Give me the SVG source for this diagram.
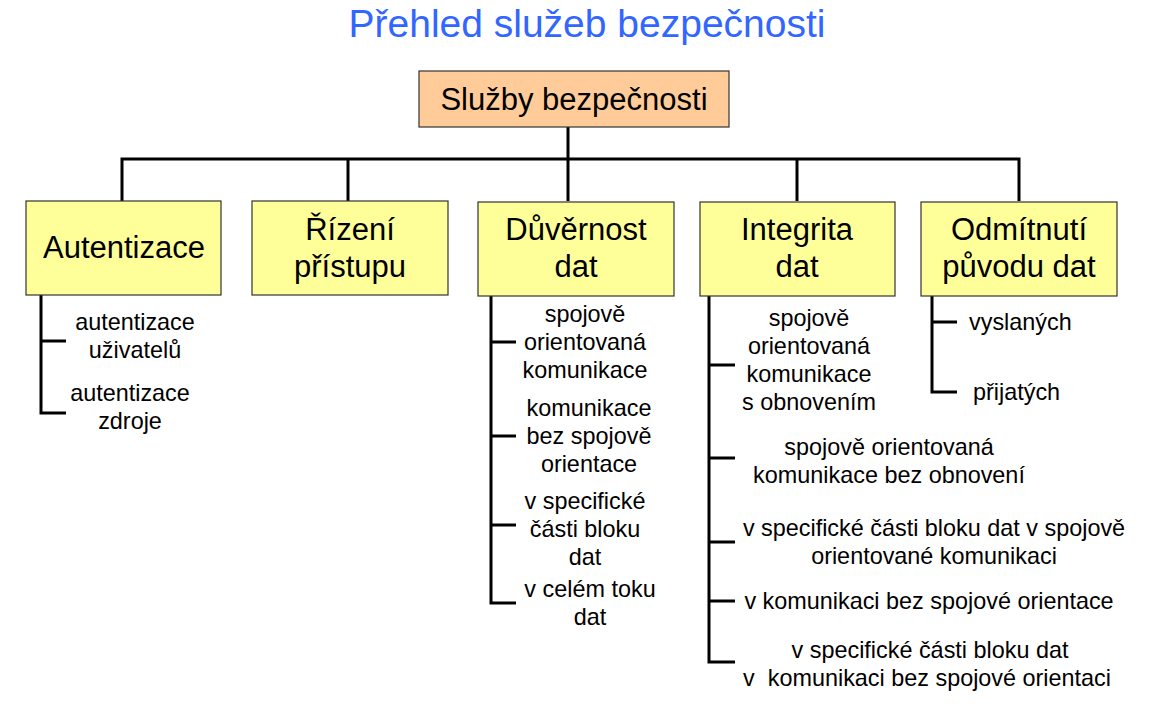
<svg xmlns="http://www.w3.org/2000/svg" width="1149" height="710" viewBox="0 0 1149 710">
<style>
text{font-family:"Liberation Sans",Arial,sans-serif;fill:#000}
.title{font-size:39px;fill:#3366FF}
.bt{font-size:31px;text-anchor:middle}
.ct{font-size:23.4px;text-anchor:middle}
.cl{font-size:23.4px}
.box{fill:#FFFF99;stroke:#333;stroke-width:1.2}
.root{fill:#FFCC99;stroke:#333;stroke-width:1.2}
.ln{fill:none;stroke:#000;stroke-width:3}
</style>
<rect width="1149" height="710" fill="#fff"/>
<text class="title" x="587" y="37" text-anchor="middle">Přehled služeb bezpečnosti</text>
<g id="connectors">
<path class="ln" d="M568 127V159M122 201V159H1019V201M348 159V201M568 159V201M797 159V201"/>
<path class="ln" d="M41 295V413H66M41 341H66"/>
<path class="ln" d="M491 296V603H516M491 342H516M491 436H516M491 525H516"/>
<path class="ln" d="M709 296V662H735M709 365H735M709 458H735M709 542H735M709 601H735"/>
<path class="ln" d="M932 296V392H957M932 322H957"/>
</g>
<g id="root"><rect class="root" x="419" y="71" width="310" height="56"/><text class="bt" x="574" y="110">Služby bezpečnosti</text></g>
<g id="autentizace"><rect class="box" x="26" y="201" width="195" height="94"/><text class="bt" x="124" y="258">Autentizace</text></g>
<g id="rizeni"><rect class="box" x="252" y="201" width="196" height="94"/><text class="bt" x="350" y="240">Řízení</text><text class="bt" x="350" y="277">přístupu</text></g>
<g id="duvernost"><rect class="box" x="478" y="202" width="196" height="94"/><text class="bt" x="576" y="240">Důvěrnost</text><text class="bt" x="576" y="277">dat</text></g>
<g id="integrita"><rect class="box" x="700" y="202" width="195" height="94"/><text class="bt" x="797" y="240">Integrita</text><text class="bt" x="797" y="277">dat</text></g>
<g id="odmitnuti"><rect class="box" x="921" y="202" width="196" height="94"/><text class="bt" x="1019" y="240">Odmítnutí</text><text class="bt" x="1019" y="277">původu dat</text></g>
<g id="aut-children">
<text class="ct" x="135" y="330">autentizace</text><text class="ct" x="135" y="358">uživatelů</text>
<text class="ct" x="130" y="401">autentizace</text><text class="ct" x="130" y="429">zdroje</text>
</g>
<g id="duv-children">
<text class="ct" x="585" y="322">spojově</text><text class="ct" x="585" y="350">orientovaná</text><text class="ct" x="585" y="378">komunikace</text>
<text class="ct" x="589" y="416">komunikace</text><text class="ct" x="589" y="444">bez spojově</text><text class="ct" x="589" y="472">orientace</text>
<text class="ct" x="585" y="509">v specifické</text><text class="ct" x="585" y="537">části bloku</text><text class="ct" x="585" y="565">dat</text>
<text class="ct" x="590" y="597">v celém toku</text><text class="ct" x="590" y="625">dat</text>
</g>
<g id="int-children">
<text class="ct" x="809" y="326">spojově</text><text class="ct" x="809" y="354">orientovaná</text><text class="ct" x="809" y="382">komunikace</text><text class="ct" x="809" y="410">s obnovením</text>
<text class="ct" x="889" y="455">spojově orientovaná</text><text class="ct" x="889" y="483">komunikace bez obnovení</text>
<text class="ct" x="934" y="536">v specifické části bloku dat v spojově</text><text class="ct" x="934" y="564">orientované komunikaci</text>
<text class="ct" x="929" y="609">v komunikaci bez spojové orientace</text>
<text class="ct" x="930" y="658">v specifické části bloku dat</text><text class="ct" x="927" y="686" xml:space="preserve">v  komunikaci bez spojové orientaci</text>
</g>
<g id="odm-children">
<text class="cl" x="969" y="330">vyslaných</text>
<text class="cl" x="973" y="400">přijatých</text>
</g>
</svg>
